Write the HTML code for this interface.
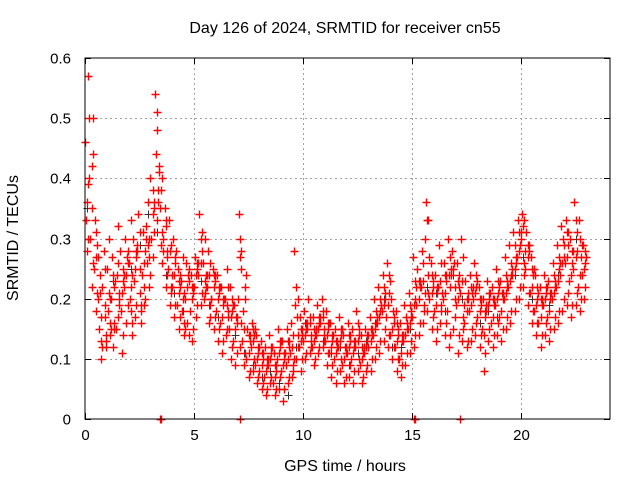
<!DOCTYPE html>
<html><head><meta charset="utf-8"><style>
body{margin:0;background:#fff}
svg{font-family:"Liberation Sans",sans-serif;font-size:16px}
</style></head><body>
<svg id="chart" width="640" height="480" viewBox="0 0 640 480">
<rect width="640" height="480" fill="#fff"/>
<text x="345" y="33" text-anchor="middle">Day 126 of 2024, SRMTID for receiver cn55</text>
<g id="grid"></g>
<g id="ticks" style="font-size:15px"></g>
<g id="black"></g>
<g id="red"></g>
<rect x="85" y="58" width="525" height="361" fill="none" stroke="#000" stroke-width="1"/>
<text x="345" y="471" text-anchor="middle">GPS time / hours</text>
<text transform="translate(18,238) rotate(-90)" text-anchor="middle">SRMTID / TECUs</text>
</svg>
<script>
const xTicks=[0,5,10,15,20];
const yTicks=[0,0.1,0.2,0.3,0.4,0.5,0.6];
const yTickLabels=["0","0.1","0.2","0.3","0.4","0.5","0.6"];
const times=[];for(let i=0;i<=114;i++)times.push(+(i*0.2).toFixed(1));
const redA=[46,40,25,20,22,25,20,15,28,22,26,30,28,24,32,40,54,42,30,25,22,19,23,20,18,22,24,26,22,20,18,16,20,15,13,20,13,10,12,9,8,7,9,6,10,8,9,11,28,12,13,15,12,14,16,13,11,10,12,9,11,10,12,9,11,12,14,16,18,17,14,12,10,13,15,17,19,22,30,20,18,22,20,18,24,19,21,16,18,20,17,15,18,16,19,17,20,22,24,27,30,25,21,18,16,19,17,20,22,24,26,23,25,22,24];
const redB=[33,30,33,15,28,18,27,24,18,30,20,23,34,31,26,30,44,35,35,33,30,25,18,26,24,27,34,20,28,25,24,22,14,22,19,34,18,15,16,14,13,12,14,11,15,13,15,16,19,17,18,20,17,19,20,18,16,15,17,14,16,15,18,14,15,17,20,22,24,26,20,18,16,19,21,27,25,28,36,26,24,29,26,30,28,26,30,23,24,26,22,20,23,22,25,23,27,29,31,33,34,31,27,24,22,24,23,26,29,32,33,30,36,33,29];
const redC=[28,22,18,24,17,30,12,32,11,16,33,17,21,19,36,27,33,29,22,19,17,15,27,16,13,17,19,30,16,15,13,11,25,10,9,12,9,7,8,6,5,4,6,4,5,3,6,7,10,8,10,11,9,11,12,9,7,6,8,6,7,6,8,6,8,8,10,11,13,12,10,8,7,9,11,12,14,16,18,15,13,16,14,12,15,11,13,12,13,14,12,8,13,12,14,13,15,16,18,20,22,19,16,14,12,14,13,15,16,18,19,17,19,18,20];
const redD=[57,50,29,10,12,14,22,19,23,26,14,27,16,28,22,36,38,26,27,22,27,22,14,23,21,25,28,22,19,23,21,19,17,18,16,25,22,13,14,11,10,9,11,8,12,10,12,8,14,14,15,13,14,16,14,15,13,12,14,11,13,12,14,11,13,14,16,18,20,21,16,14,13,15,17,20,22,19,24,22,21,19,23,22,20,22,17,20,21,22,19,18,20,19,21,20,22,24,26,29,26,28,24,20,19,21,20,22,25,27,29,26,28,27,26];
const redE=[36,42,31,21,19,21,24,17,21,24,22,25,31,26,29,34,51,38,32,28,24,21,20,22,20,24,26,23,24,22,20,17,19,17,15,27,15,11,13,10,9,8,10,7,11,9,10,12,22,13,14,16,13,15,17,14,12,11,13,10,12,11,13,10,12,13,15,17,19,19,15,13,11,14,16,19,20,23,33,21,19,23,21,24,25,20,23,18,19,21,18,14,19,17,20,18,21,23,25,28,32,27,22,19,17,20,18,21,23,26,27,24,27,24,25];
const redF=[30,35,27,17,25,20,16,26,25,27,18,28,25,22,30,38,48,40,33,29,26,23,16,24,22,26,30,21,26,24,22,20,15,20,17,30,20,14,15,12,11,10,12,9,13,11,13,14,17,15,16,17,15,17,18,16,14,13,15,12,14,13,16,12,14,15,18,20,22,24,18,16,14,17,19,23,23,26,33,24,22,26,24,27,26,23,27,20,22,24,20,17,21,20,23,21,24,26,29,31,33,29,25,22,20,22,21,24,27,30,31,28,33,30,28];
const redG=[39,26,21,13,14,16,15,21,14,19,24,19,18,20,27,31,36,31,24,21,19,17,21,14,15,19,21,24,17,17,15,13,22,12,11,16,11,8,10,7,6,5,7,5,7,5,7,9,12,10,11,12,10,12,13,11,9,8,10,7,9,8,10,7,9,10,12,13,15,14,12,10,9,11,13,14,16,18,21,17,15,18,16,14,17,14,15,13,15,16,14,11,15,14,16,15,17,18,20,22,24,21,18,16,14,16,15,17,18,20,21,19,21,20,22];
const redH=[50,44,27,12,13,15,23,20,24,28,16,29,19,30,24,35,41,28,28,24,28,24,15,25,22,26,31,24,20,24,22,20,18,19,17,28,24,14,15,12,11,10,12,9,13,11,13,10,20,15,16,14,15,17,15,16,14,13,15,12,14,13,15,12,14,15,17,19,21,23,17,15,14,16,18,22,23,21,27,23,22,21,24,25,22,24,19,21,22,23,20,19,21,20,22,21,23,25,27,31,28,29,25,21,20,22,21,23,26,29,31,28,31,29,27];
const blackTimes=[0.1,0.5,0.9,1.3,1.7,2.1,2.5,2.9,3.3,3.7,4.1,4.5,4.9,5.3,5.7,6.1,6.5,6.9,7.3,7.7,8.1,8.5,8.9,9.3,9.7,10.1,10.5,10.9,11.3,11.7,12.1,12.5,12.9,13.3,13.7,14.1,14.5,14.9,15.3,15.7,16.1,16.5,16.9,17.3,17.7,18.1,18.5,18.9,19.3,19.7,20.1,20.5,20.9,21.3,21.7,22.1,22.5];
const blackVals=[35,27,19,23,21,25,29,34,31,24,21,18,20,23,19,17,15,14,11,9,7,8,6,4,12,16,15,13,11,12,9,11,13,16,20,12,12,15,20,22,21,18,24,20,19,16,18,17,21,24,27,20,17,19,24,27,30];
const zeroTimes=[3.45,3.5,7.1,15.1,15.15,17.2];

const X0=85,X1=610,XMAX=24.08,Y0=419,Y1=58,YMAX=0.6;
const sx=v=>X0+v/XMAX*(X1-X0);
const sy=v=>Y0-v/YMAX*(Y0-Y1);
const NS="http://www.w3.org/2000/svg";
const grid=document.getElementById('grid'),ticks=document.getElementById('ticks');
function line(p,x1,y1,x2,y2,st,dash){const l=document.createElementNS(NS,'line');l.setAttribute('x1',x1);l.setAttribute('y1',y1);l.setAttribute('x2',x2);l.setAttribute('y2',y2);l.setAttribute('stroke',st);if(dash)l.setAttribute('stroke-dasharray',dash);p.appendChild(l);return l;}
function txt(s,x,y,anc){const t=document.createElementNS(NS,'text');t.setAttribute('x',x);t.setAttribute('y',y);t.setAttribute('text-anchor',anc);t.textContent=s;ticks.appendChild(t);return t;}
xTicks.forEach(v=>{const x=Math.round(sx(v))+0.5;
 if(v>0){const g=line(grid,x,Y1,x,Y0,'#a0a0a0','2,3');
 
 }
 line(ticks,x,Y0,x,Y0-6,'#000');line(ticks,x,Y1,x,Y1+6,'#000');
 const t=txt(String(v),x,440,'middle');
 
 });
yTicks.forEach((v,i)=>{const y=Math.round(sy(v))+0.5;
 if(v>0&&v<0.6){const g=line(grid,X0,y,X1,y,'#a0a0a0','2,3');
 
 }
 line(ticks,X0,y,X0+6,y,'#000');line(ticks,X1,y,X1-6,y,'#000');
 const t=txt(yTickLabels[i],71,y+5,'end');
 
 });
function plus(g,t,v,col,w){const x=Math.round(sx(t))+0.5,y=Math.round(sy(v))+0.5;
 const p=document.createElementNS(NS,'path');
 p.setAttribute('d',`M${x-4} ${y}H${x+4}M${x} ${y-4}V${y+4}`);
 p.setAttribute('stroke',col);
 p.setAttribute('stroke-width',w);
 
 
 g.appendChild(p);}
const gb=document.getElementById('black'),gr=document.getElementById('red');
blackTimes.forEach((t,i)=>plus(gb,t,blackVals[i]/100,'#333',1));
[redA,redB,redC,redD].forEach((arr,k)=>arr.forEach((v,i)=>plus(gr,times[i]+k*0.05,v/100,'#ff0000',1.4)));
[redE,redF,redG,redH].forEach((arr,k)=>arr.forEach((v,i)=>plus(gr,times[i]+0.1+k*0.025,v/100,'#ff0000',1.4)));
zeroTimes.forEach(t=>plus(gr,t,0,'#ff0000',1.4));
</script>
</body></html>
